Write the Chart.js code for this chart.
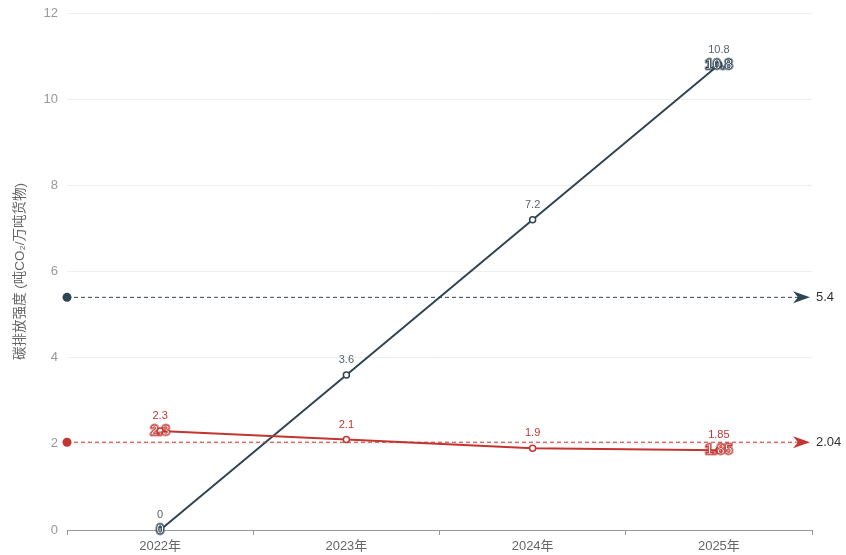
<!DOCTYPE html>
<html>
<head>
<meta charset="utf-8">
<script src="https://cdn.jsdelivr.net/npm/chart.js@4/dist/chart.umd.min.js"></script>
<style>
  html, body { margin: 0; padding: 0; background: #fff; }
  #wrap { width: 846px; height: 555px; position: relative; }
</style>
</head>
<body>
<div id="wrap"><canvas id="chart"></canvas></div>
<script>
// chart values
const categories = ['2022年', '2023年', '2024年', '2025年'];
const redValues = [2.3, 2.1, 1.9, 1.85];
const darkValues = [0, 3.6, 7.2, 10.8];
const yTicks = [0, 2, 4, 6, 8, 10, 12];
const yTitle = '碳排放强度 (吨CO₂/万吨货物)';

const RED = '#c23531';
const DARK = '#2f4554';
const FONT = "'Liberation Sans', 'Noto Sans CJK SC', sans-serif";

// draws value labels, max/min marks and the average lines
const marksPlugin = {
  id: 'marks',
  afterDatasetsDraw(chart) {
    const ctx = chart.ctx;
    const area = chart.chartArea;
    const yScale = chart.scales.y;

    chart.data.datasets.forEach((ds, i) => {
      const meta = chart.getDatasetMeta(i);
      const color = ds.borderColor;
      const vals = ds.data;

      // value labels above each point
      ctx.save();
      ctx.font = '11px ' + FONT;
      ctx.fillStyle = i === 1 ? '#55636e' : color;
      ctx.textAlign = 'center';
      ctx.textBaseline = 'middle';
      meta.data.forEach((pt, j) => {
        ctx.fillText(String(vals[j]), pt.x, pt.y - 15);
      });
      ctx.restore();

      // max / min marks
      const maxIdx = vals.indexOf(Math.max(...vals));
      const minIdx = vals.indexOf(Math.min(...vals));
      [maxIdx, minIdx].forEach(k => {
        const pt = meta.data[k];
        ctx.save();
        ctx.font = 'bold 14px ' + FONT;
        ctx.textAlign = 'center';
        ctx.textBaseline = 'middle';
        ctx.lineJoin = 'round';
        ctx.lineWidth = 3;
        ctx.strokeStyle = color;
        ctx.globalAlpha = 0.55;
        ctx.strokeText(String(vals[k]), pt.x, pt.y);
        ctx.globalAlpha = 1;
        ctx.fillStyle = '#fff';
        ctx.fillText(String(vals[k]), pt.x, pt.y);
        ctx.lineWidth = 0.8;
        ctx.strokeStyle = color;
        ctx.strokeText(String(vals[k]), pt.x, pt.y);
        ctx.restore();
      });

      // average line
      const avg = vals.reduce((a, b) => a + b, 0) / vals.length;
      const y = yScale.getPixelForValue(avg);
      const x0 = area.left;
      const x1 = area.right - 2;
      ctx.save();
      ctx.strokeStyle = color;
      ctx.lineWidth = 1;
      ctx.setLineDash([4, 3]);
      ctx.beginPath();
      ctx.moveTo(x0, y);
      ctx.lineTo(x1 - 10, y);
      ctx.stroke();
      ctx.setLineDash([]);
      ctx.fillStyle = color;
      ctx.beginPath();
      ctx.arc(x0, y, 4.5, 0, Math.PI * 2);
      ctx.fill();
      ctx.beginPath();
      ctx.moveTo(x1, y);
      ctx.lineTo(x1 - 17, y - 6);
      ctx.lineTo(x1 - 12, y);
      ctx.lineTo(x1 - 17, y + 6);
      ctx.closePath();
      ctx.fill();
      ctx.font = '13px ' + FONT;
      ctx.fillStyle = '#333';
      ctx.textAlign = 'left';
      ctx.textBaseline = 'middle';
      ctx.fillText(String(Math.round(avg * 100) / 100), x1 + 6, y);
      ctx.restore();
    });
  }
};

new Chart(document.getElementById('chart'), {
  type: 'line',
  data: {
    labels: categories,
    datasets: [
      {
        label: '碳排放强度 A',
        data: redValues,
        borderColor: RED,
        backgroundColor: '#fff',
        borderWidth: 2,
        pointRadius: 3,
        pointBorderWidth: 1.5,
        pointBackgroundColor: '#fff',
        pointBorderColor: RED,
        tension: 0,
        clip: false
      },
      {
        label: '碳排放强度 B',
        data: darkValues,
        borderColor: DARK,
        backgroundColor: '#fff',
        borderWidth: 2,
        pointRadius: 3,
        pointBorderWidth: 1.5,
        pointBackgroundColor: '#fff',
        pointBorderColor: DARK,
        tension: 0,
        clip: false
      }
    ]
  },
  options: {
    responsive: true,
    maintainAspectRatio: false,
    animation: false,
    layout: { autoPadding: false, padding: { top: 13, right: 34, left: 0, bottom: 0 } },
    plugins: {
      legend: { display: false },
      tooltip: { enabled: false }
    },
    scales: {
      x: {
        offset: true,
        afterFit(scale) { scale.height = 25; },
        border: { display: true, color: '#999', width: 1 },
        grid: { display: true, offset: true, drawOnChartArea: false, drawTicks: true, tickLength: 5, color: '#999' },
        ticks: { color: '#666', font: { size: 13, family: FONT }, padding: 4 }
      },
      y: {
        min: 0,
        max: 12,
        afterFit(scale) { scale.width = 67; scale.paddingTop = 0; scale.paddingBottom = 0; },
        afterBuildTicks(scale) { scale.ticks = yTicks.map(v => ({ value: v })); },
        border: { display: false },
        grid: { color: '#eee', drawTicks: false },
        ticks: { color: '#999', font: { size: 13, family: FONT }, padding: 9 },
        title: {
          display: true,
          text: yTitle,
          color: '#666',
          font: { size: 13.5, family: FONT },
          padding: { top: 12, bottom: 0 }
        }
      }
    }
  },
  plugins: [marksPlugin]
});
</script>
</body>
</html>
